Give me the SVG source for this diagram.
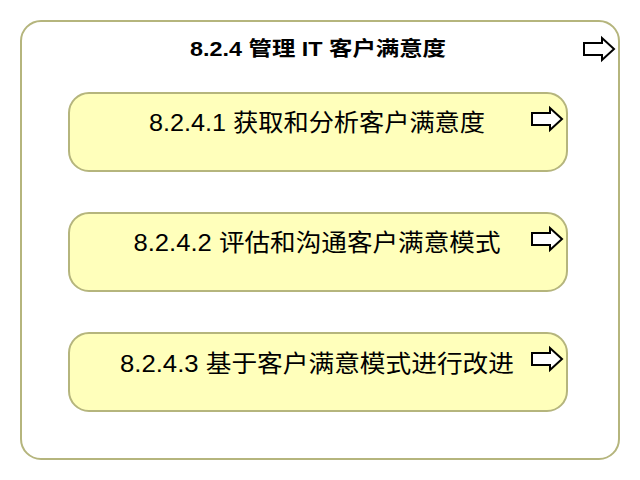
<svg xmlns="http://www.w3.org/2000/svg" width="640" height="480" viewBox="0 0 640 480">
<defs>
<style>
.outer{fill:#ffffff;stroke:#b5b57d;stroke-width:2}
.box{fill:#ffffbb;stroke:#b5b57d;stroke-width:2}
.icon{fill:#ffffff;stroke:#000000;stroke-width:2;stroke-linejoin:miter}
.title{font-family:"Liberation Sans","Noto Sans CJK SC",sans-serif;font-weight:bold;font-size:20px;fill:#000}
.label{font-family:"Liberation Sans","Noto Sans CJK SC",sans-serif;font-size:24px;fill:#000}
</style>
<path id="arr" d="M0,5 H18 V0 L30,11 L18,22 V17 H0 Z"/>
</defs>
<g id="outer-node">
<rect class="outer" x="21" y="21" width="598" height="438" rx="20" ry="20"/>
<text class="title" x="318" y="56" text-anchor="middle" textLength="256" lengthAdjust="spacingAndGlyphs">8.2.4 管理 IT 客户满意度</text>
<use href="#arr" class="icon" x="584" y="38"/>
</g>
<g id="node-8241">
<rect class="box" x="69" y="93" width="498" height="78" rx="20" ry="20"/>
<text class="label" x="317" y="131" text-anchor="middle" textLength="336" lengthAdjust="spacingAndGlyphs">8.2.4.1 获取和分析客户满意度</text>
<use href="#arr" class="icon" x="532" y="108"/>
</g>
<g id="node-8242">
<rect class="box" x="69" y="213" width="498" height="78" rx="20" ry="20"/>
<text class="label" x="317" y="251" text-anchor="middle" textLength="367" lengthAdjust="spacingAndGlyphs">8.2.4.2 评估和沟通客户满意模式</text>
<use href="#arr" class="icon" x="532" y="228"/>
</g>
<g id="node-8243">
<rect class="box" x="69" y="333" width="498" height="78" rx="20" ry="20"/>
<text class="label" x="317" y="372" text-anchor="middle" textLength="394" lengthAdjust="spacingAndGlyphs">8.2.4.3 基于客户满意模式进行改进</text>
<use href="#arr" class="icon" x="532" y="348"/>
</g>
<g id="connectors"/>
</svg>
